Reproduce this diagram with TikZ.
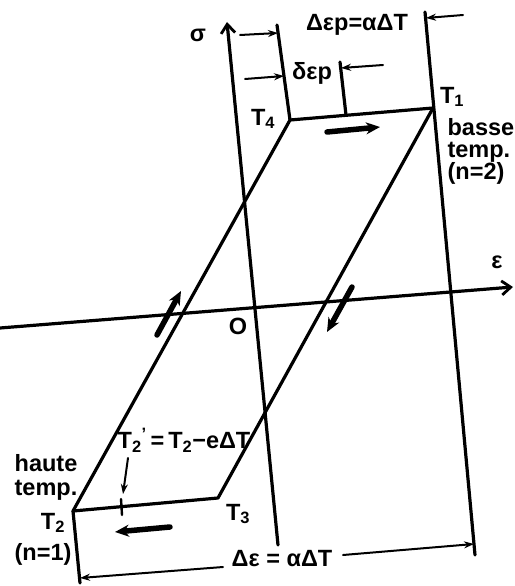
\documentclass[tikz,border=0pt]{standalone}
\usepackage{fontspec}
\setmainfont{Liberation Sans}
\usetikzlibrary{arrows.meta}
\begin{document}
\begin{tikzpicture}[x=1pt,y=-1pt,line width=3.2pt,line cap=round,line join=round,
  axisarrow/.style={line width=3.2pt,-{Straight Barb[length=9pt,width=14pt,line width=2.8pt]}},
  dimarrow/.style={line width=2pt,-{Stealth[length=10pt,width=7pt]}},
  boldarrow/.style={line width=5.5pt,-{Stealth[length=14pt,width=12pt]}},
  lbl/.style={font=\fontsize{23.5}{22}\selectfont\bfseries,inner sep=0pt}]
\useasboundingbox (0,0) rectangle (514,586);
% parallelogram corners
\coordinate (T4) at (290,120);
\coordinate (T1) at (433,108);
\coordinate (T3) at (218,498);
\coordinate (T2) at (73,511);
% axes
\coordinate (sb) at (278,545);
\coordinate (st) at (227,22);
\coordinate (el) at (0,328);
\coordinate (er) at (513,287);
\draw[axisarrow] (sb) -- (st);
\draw[axisarrow] (el) -- (er);
% loop
\draw (T2) -- (T4) -- (T1) -- (T3) -- cycle;
% extension lines
\coordinate (t4top) at (277,25);
\coordinate (dtop) at (340,62);
\coordinate (dbot) at (346,115);
\coordinate (rtop) at (425,12);
\coordinate (rbot) at (475,555);
\coordinate (t2bot) at (80,583);
\draw (t4top) -- (T4);
\draw (dtop) -- (dbot);
\draw (rtop) -- (rbot);
\draw (T2) -- (t2bot);
% tick on bottom edge
\coordinate (tk1) at (121,499);
\coordinate (tk2) at (122,515);
\draw[line width=2.4pt] (tk1) -- (tk2);
% dimension arrows top
\coordinate (a1s) at (240,35);  \coordinate (a1e) at (278,33);
\coordinate (a2s) at (463,15);  \coordinate (a2e) at (426,18);
\coordinate (a3s) at (245,79);  \coordinate (a3e) at (284,76);
\coordinate (a4s) at (383,65);  \coordinate (a4e) at (341,68);
\draw[dimarrow] (a1s) -- (a1e);
\draw[dimarrow] (a2s) -- (a2e);
\draw[dimarrow] (a3s) -- (a3e);
\draw[dimarrow] (a4s) -- (a4e);
% bottom dimension
\coordinate (b1s) at (223,567); \coordinate (b1e) at (80,578);
\coordinate (b2s) at (343,555); \coordinate (b2e) at (474,544);
\draw[dimarrow] (b1s) -- (b1e);
\draw[dimarrow] (b2s) -- (b2e);
% T2' arrow
\coordinate (p1s) at (128,458); \coordinate (p1e) at (123,494);
\draw[dimarrow] (p1s) -- (p1e);
% bold path arrows
\coordinate (h1s) at (327,132); \coordinate (h1e) at (380,127);
\coordinate (h2s) at (157,335); \coordinate (h2e) at (181,291);
\coordinate (h3s) at (352,287); \coordinate (h3e) at (327,332);
\coordinate (h4s) at (170,527); \coordinate (h4e) at (115,532);
\draw[boldarrow] (h1s) -- (h1e);
\draw[boldarrow] (h2s) -- (h2e);
\draw[boldarrow] (h3s) -- (h3e);
\draw[boldarrow] (h4s) -- (h4e);
% labels
\node[lbl] (lsig) at (198,35) {σ};
\node[lbl] (leps) at (497,262) {ε};
\node[lbl] (lO) at (238,326) {O};
\node[lbl] (ldep) at (357,25) {Δεp=αΔT};
\node[lbl] (lddp) at (312,73) {δεp};
\node[lbl] (lT4) at (263,119) {T\textsubscript{4}};
\node[lbl] (lT1) at (452,97) {T\textsubscript{1}};
\node[lbl,anchor=north west,align=left] (lbasse) at (446,117) {basse\\temp.\\(n=2)};
\node[lbl,align=center,anchor=north] (lhaute) at (46,453) {haute\\[2pt]temp.};
\node[lbl] (lT2) at (53,523) {T\textsubscript{2}};
\node[lbl] (ln1) at (43,554) {(n=1)};
\node[lbl] (lT3) at (238,514) {T\textsubscript{3}};
\node[lbl] (lT2p) at (184,440) {T\textsubscript{2}\textsuperscript{'}\,=\,T\textsubscript{2}−eΔT};
\node[lbl] (lde) at (282,559) {Δε = αΔT};
\end{tikzpicture}
\end{document}
